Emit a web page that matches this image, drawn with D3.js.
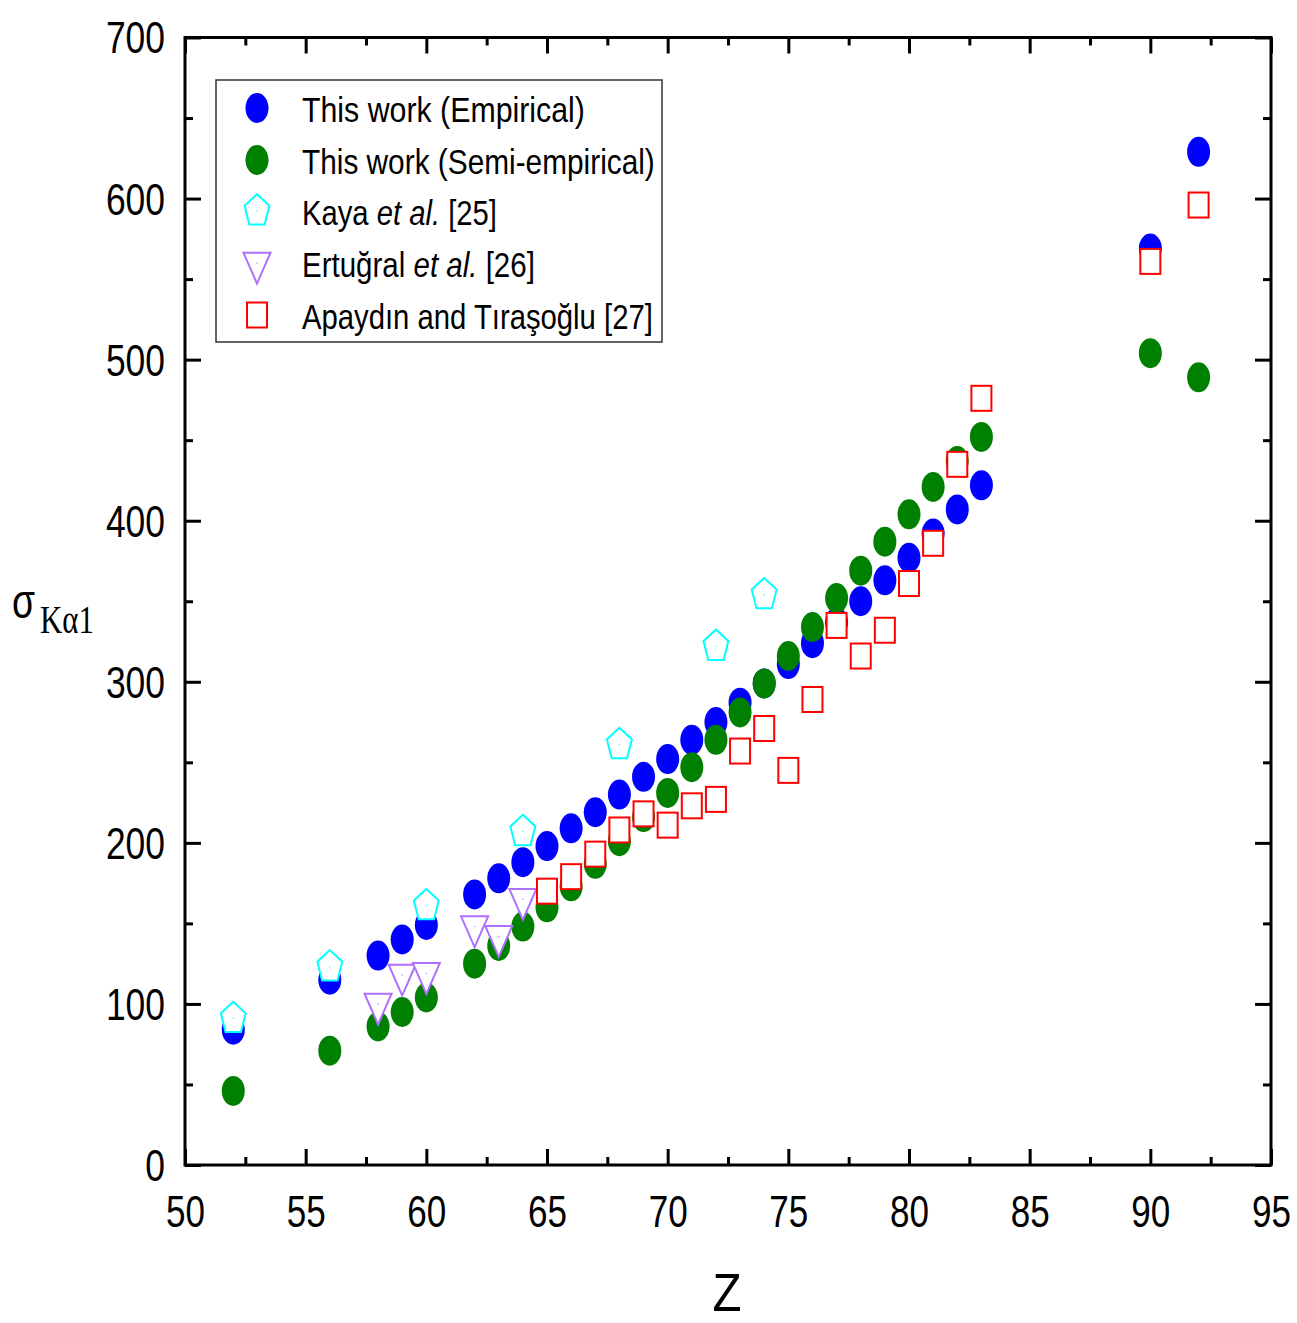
<!DOCTYPE html>
<html><head><meta charset="utf-8">
<script src="https://cdn.jsdelivr.net/npm/d3@7"></script>
<style>body{margin:0;background:#fff}svg{display:block}</style>
</head><body>
<svg id="c" width="1297" height="1323"></svg>
<script>
// ---- data ----
const zMain = [52,56,58,59,60,62,63,64,65,66,67,68,69,70,71,72,73,74,75,76,77,78,79,80,81,82,83,90,92];
const empirical = [84,115,130,140,149,168,178,188,198,209,219,230,241,252,264,275,287,299,311,324,337,350,363,377,392,407,422,569,629];
const semiEmpirical = [46,71,86,95,104,125,136,148,160,173,187,201,216,231,247,264,281,299,316,334,352,369,387,404,421,437,452,504,489];
const zKaya = [52,56,60,64,68,72,74];
const kaya = [91,123,161,207,261,322,354];
const zErtugral = [58,59,60,62,63,64];
const ertugral = [100,118,119,148,142,165];
const zApaydin = [65,66,67,68,69,70,71,72,73,74,75,76,77,78,79,80,81,82,83,90,92];
const apaydin = [170,179,193,208,218,211,223,227,257,271,245,289,335,316,332,361,386,435,476,561,596];
const xMajor = [50,55,60,65,70,75,80,85,90,95];
const xMinor = [52.5,57.5,62.5,67.5,72.5,77.5,82.5,87.5,92.5];
const yMajor = [0,100,200,300,400,500,600,700];
const yMinor = [50,150,250,350,450,550,650];
const legendLabels = ["This work (Empirical)","This work (Semi-empirical)","Kaya |et al.| [25]","Ertuğral |et al.| [26]","Apaydın and Tıraşoğlu [27]"];

const svg = d3.select("#c");
const L=185, R=1271, T=37.5, B=1165;
const x = d3.scaleLinear().domain([50,95]).range([L,R]);
const y = d3.scaleLinear().domain([0,700]).range([B,T]);
const SANS = "'Liberation Sans Narrow','Arial Narrow','Liberation Sans',Arial,sans-serif";

function fitText(sel, w){ // horizontally scale text to width w, anchored by its text-anchor
  sel.each(function(){
    const n=this; const len=n.getComputedTextLength(); if(!len) return;
    const s=w/len; const ax=+n.getAttribute("x")||0; const ay=+n.getAttribute("y")||0;
    n.setAttribute("transform",`translate(${ax},${ay}) scale(${s},1) translate(${-ax},${-ay})`);
  });
}

// ticks (inward, all four sides)
function ticks(axisGen, scale, vals, size, tr){
  const g = svg.append("g").attr("transform",tr)
    .call(axisGen(scale).tickValues(vals).tickSize(-size).tickFormat(""));
  g.select(".domain").remove();
  g.selectAll("line").attr("stroke","#000").attr("stroke-width",3);
}
ticks(d3.axisBottom,x,xMajor,16,`translate(0,${B})`);
ticks(d3.axisBottom,x,xMinor,8,`translate(0,${B})`);
ticks(d3.axisTop,x,xMajor,16,`translate(0,${T})`);
ticks(d3.axisTop,x,xMinor,8,`translate(0,${T})`);
ticks(d3.axisLeft,y,yMajor,16,`translate(${L},0)`);
ticks(d3.axisLeft,y,yMinor,8,`translate(${L},0)`);
ticks(d3.axisRight,y,yMajor,16,`translate(${R},0)`);
ticks(d3.axisRight,y,yMinor,8,`translate(${R},0)`);
svg.append("rect").attr("x",L).attr("y",T).attr("width",R-L).attr("height",B-T)
  .attr("fill","none").attr("stroke","#000").attr("stroke-width",3);

// tick labels
svg.selectAll(".xl").data(xMajor).enter().append("text")
  .attr("x",d=>x(d)+0.5).attr("y",1227).attr("text-anchor","middle")
  .attr("font-family",SANS).attr("font-size",45).text(d=>d)
  .call(s=>s.each(function(d){fitText(d3.select(this),String(d).length*19.5);}));
svg.selectAll(".yl").data(yMajor).enter().append("text")
  .attr("x",165).attr("y",d=>y(d)+16).attr("text-anchor","end")
  .attr("font-family",SANS).attr("font-size",45).text(d=>d)
  .call(s=>s.each(function(d){fitText(d3.select(this),String(d).length*19.7);}));

// axis titles
const zt = svg.append("text").attr("x",727).attr("y",1311).attr("text-anchor","middle")
  .attr("font-family",SANS).attr("font-size",54).text("Z");
fitText(zt,29);
const sg = svg.append("text").attr("x",12).attr("y",618).attr("font-family","'Liberation Sans',Arial,sans-serif")
  .attr("font-size",48).text("σ");
fitText(sg,23);
const sub = svg.append("text").attr("x",40).attr("y",633).attr("font-family","'Liberation Serif','Times New Roman',serif")
  .attr("font-size",40).text("Kα1");
fitText(sub,54);

// markers
const RX=11.5, RY=15;
function pentPath(){ const Rr=13.1, sy=1.28; let p=[];
  for(let i=0;i<5;i++){const a=-Math.PI/2+i*2*Math.PI/5; p.push([Rr*Math.cos(a), Rr*Math.sin(a)*sy]);}
  return "M"+p.map(q=>q.join(",")).join("L")+"Z"; }
function triPath(){ const Rr=15.6, sy=1.32; let p=[];
  for(let i=0;i<3;i++){const a=Math.PI/2+i*2*Math.PI/3; p.push([Rr*Math.cos(a), Rr*Math.sin(a)*sy]);}
  return "M"+p.map(q=>q.join(",")).join("L")+"Z"; }
const PENT=pentPath(), TRI=triPath();

function drawEllipses(zs, vs, color){
  svg.append("g").selectAll("ellipse").data(zs).enter().append("ellipse")
    .attr("cx",d=>x(d)).attr("cy",(d,i)=>y(vs[i])).attr("rx",RX).attr("ry",RY).attr("fill",color);
}
function drawShape(zs, vs, color, path){
  const g=svg.append("g").selectAll("g").data(zs).enter().append("g")
    .attr("transform",(d,i)=>`translate(${x(d)},${y(vs[i])})`);
  g.append("path").attr("d",path).attr("fill","#fff").attr("stroke",color).attr("stroke-width",2);
  g.append("circle").attr("r",0.7).attr("fill",color);
}
function drawSquares(zs, vs, color){
  const g=svg.append("g").selectAll("g").data(zs).enter().append("g")
    .attr("transform",(d,i)=>`translate(${x(d)},${y(vs[i])})`);
  g.append("rect").attr("x",-10).attr("y",-12.5).attr("width",20).attr("height",25)
    .attr("fill","#fff").attr("stroke",color).attr("stroke-width",2);
}
drawEllipses(zMain, empirical, "#0000ff");
drawEllipses(zMain, semiEmpirical, "#008000");
drawShape(zKaya, kaya, "#00ffff", PENT);
drawShape(zErtugral, ertugral, "#b070ff", TRI);
drawSquares(zApaydin, apaydin, "#ff0000");

// legend
svg.append("rect").attr("x",216).attr("y",80).attr("width",446).attr("height",262)
  .attr("fill","#fff").attr("stroke","#333").attr("stroke-width",1.5);
const rowY=[108,160,211,263,315];
const lg=svg.append("g");
lg.append("ellipse").attr("cx",257).attr("cy",rowY[0]).attr("rx",RX).attr("ry",RY).attr("fill","#0000ff");
lg.append("ellipse").attr("cx",257).attr("cy",rowY[1]).attr("rx",RX).attr("ry",RY).attr("fill","#008000");
const p1=lg.append("g").attr("transform",`translate(257,${rowY[2]})`);
p1.append("path").attr("d",PENT).attr("fill","#fff").attr("stroke","#00ffff").attr("stroke-width",2);
p1.append("circle").attr("r",0.7).attr("fill","#00ffff");
const p2=lg.append("g").attr("transform",`translate(257,${rowY[3]})`);
p2.append("path").attr("d",TRI).attr("fill","#fff").attr("stroke","#b070ff").attr("stroke-width",2);
p2.append("circle").attr("r",0.7).attr("fill","#b070ff");
lg.append("rect").attr("x",247).attr("y",rowY[4]-12.5).attr("width",20).attr("height",25)
  .attr("fill","#fff").attr("stroke","#ff0000").attr("stroke-width",2);
const legW=[283,353,195,233,351];
legendLabels.forEach((lab,i)=>{
  const t=lg.append("text").attr("x",302).attr("y",rowY[i]+14).attr("font-family",SANS).attr("font-size",35);
  lab.split("|").forEach((part,j)=>{
    t.append("tspan").attr("font-style",j%2? "italic":"normal").text(part);
  });
  fitText(t,legW[i]);
});
</script>
</body></html>
